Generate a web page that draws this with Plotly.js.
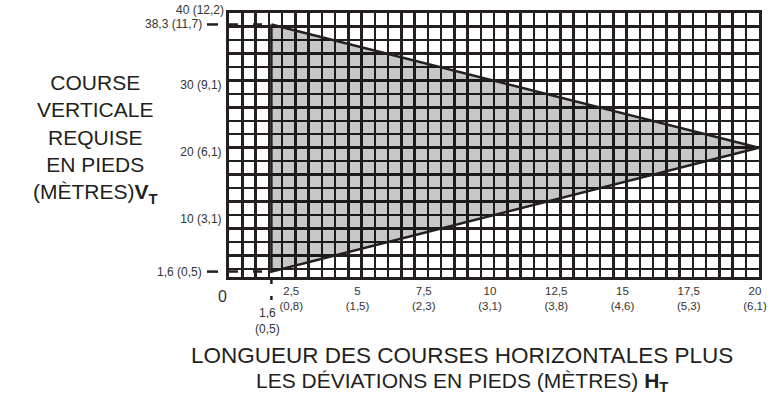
<!DOCTYPE html>
<html>
<head>
<meta charset="utf-8">
<script src="https://cdn.plot.ly/plotly-3.0.1.min.js"></script>
<style>html,body{margin:0;padding:0;background:#fff;}#chart{width:776px;height:396px;}</style>
</head>
<body>
<div id="chart"></div>
<script>
// ---- data ----
const xTickVals = [2.5, 5, 7.5, 10, 12.5, 15, 17.5, 20];
const xTickFeet = ['2,5', '5', '7,5', '10', '12,5', '15', '17,5', '20'];
const xTickMeters = ['(0,8)', '(1,5)', '(2,3)', '(3,1)', '(3,8)', '(4,6)', '(5,3)', '(6,1)'];
const yTickVals = [10, 20, 30, 40];
const yTickText = ['10 (3,1)', '20 (6,1)', '30 (9,1)', '40 (12,2)'];
const triX = [1.6, 20, 1.6, 1.6];
const triY = [38.3, 20, 1.6, 38.3];
const refYVals = [38.3, 1.6];
const refYText = ['38,3 (11,7)', '1,6 (0,5)'];
const refXVal = 1.6;
const refXText = '1,6<br>(0,5)';
const originVal = 0;
const originText = '0';
const yTitle = 'COURSE<br>VERTICALE<br>REQUISE<br>EN PIEDS<br>(MÈTRES)<b>V</b><sub><b>T</b></sub>';
const xTitleLines = ['LONGUEUR DES COURSES HORIZONTALES PLUS',
                     'LES DÉVIATIONS EN PIEDS (MÈTRES) <b>H</b><sub><b>T</b></sub>'];

const INK = '#231f20';
const LBL = '#333333';
const FONT = 'Liberation Sans, Arial, sans-serif';

const traces = [];
// triangle
traces.push({
  x: triX, y: triY, type: 'scatter', mode: 'lines',
  fill: 'toself', fillcolor: 'rgba(0,0,0,0.22)',
  line: {color: INK, width: 2.5}, hoverinfo: 'skip', showlegend: false
});
// horizontal dashed reference lines inside the plot
refYVals.forEach(v => {
  traces.push({
    x: [originVal, refXVal], y: [v, v], type: 'scatter', mode: 'lines',
    line: {color: INK, width: 2.5, dash: '9px,15px'},
    hoverinfo: 'skip', showlegend: false
  });
});

const shapes = [];
// outside dash marks (left of y axis) at reference y values
refYVals.forEach(v => {
  shapes.push({
    type: 'line', xref: 'paper', xsizemode: 'pixel', xanchor: 0, x0: -22, x1: -11,
    yref: 'y', y0: v, y1: v, line: {color: INK, width: 2.5}, layer: 'above'
  });
});
// dashes below x axis at reference x value
[[-2, -7], [-19, -23]].forEach(seg => {
  shapes.push({
    type: 'line', xref: 'x', x0: refXVal, x1: refXVal,
    yref: 'paper', ysizemode: 'pixel', yanchor: 0, y0: seg[0], y1: seg[1],
    line: {color: INK, width: 2.5}, layer: 'above'
  });
});

const annotations = [];
refYVals.forEach((v, i) => {
  annotations.push({
    x: 0, y: v, xref: 'paper', yref: 'y', xshift: -25, text: refYText[i], showarrow: false,
    xanchor: 'right', yanchor: 'middle', font: {family: FONT, size: 12, color: LBL}
  });
});
// top y label sits just above the frame
const nTop = yTickVals.length - 1;
annotations.push({
  x: 0, y: yTickVals[nTop], xref: 'paper', yref: 'y', xshift: -3, yshift: 3,
  text: yTickText[nTop], showarrow: false, xanchor: 'right', yanchor: 'middle',
  font: {family: FONT, size: 12, color: LBL}
});
annotations.push({
  x: refXVal, y: 0, xref: 'x', yref: 'paper', yshift: -27, xshift: -4,
  text: refXText, showarrow: false, xanchor: 'center', yanchor: 'top',
  font: {family: FONT, size: 12, color: LBL}
});
annotations.push({
  x: originVal, y: 0, xref: 'x', yref: 'paper', yshift: -9, xshift: -7,
  text: originText, showarrow: false, xanchor: 'center', yanchor: 'top',
  font: {family: FONT, size: 16, color: LBL}
});
annotations.push({
  x: -0.2528, y: 0.5227, xref: 'paper', yref: 'paper', text: yTitle, showarrow: false,
  xanchor: 'center', yanchor: 'middle', align: 'center',
  font: {family: FONT, size: 21, color: INK}
});
annotations.push({
  x: 0.4396, y: 0, xref: 'paper', yref: 'paper', yshift: -78, text: xTitleLines[0], showarrow: false,
  xanchor: 'center', yanchor: 'middle', align: 'center',
  font: {family: FONT, size: 22.5, color: INK}
});
annotations.push({
  x: 0.4396, y: 0, xref: 'paper', yref: 'paper', yshift: -105, text: xTitleLines[1], showarrow: false,
  xanchor: 'center', yanchor: 'middle', align: 'center',
  font: {family: FONT, size: 21, color: INK}
});

const layout = {
  width: 776, height: 396,
  margin: {l: 229, r: 17, t: 13, b: 119},
  paper_bgcolor: '#ffffff', plot_bgcolor: '#ffffff',
  showlegend: false,
  xaxis: {
    range: [0, 20], showgrid: true, gridcolor: INK, gridwidth: 2.5,
    zeroline: false, showline: true, mirror: true, linecolor: INK, linewidth: 3,
    tickmode: 'array', tickvals: xTickVals,
    ticktext: xTickFeet.map((f, i) => f + '<br>' + xTickMeters[i]),
    ticks: '', ticklabelshift: -4, ticklabelstandoff: 1,
    tickfont: {family: FONT, size: 11.5, color: LBL}, fixedrange: true,
    minor: {tick0: 0, dtick: 0.5, showgrid: true, gridcolor: INK, gridwidth: 2.5}
  },
  yaxis: {
    range: [0.8, 40], showgrid: true, gridcolor: INK, gridwidth: 2.5,
    zeroline: false, showline: true, mirror: true, linecolor: INK, linewidth: 3,
    tickmode: 'array', tickvals: yTickVals.slice(0, nTop), ticktext: yTickText.slice(0, nTop),
    ticks: '', ticklabelstandoff: 2, ticklabelshift: 4,
    tickfont: {family: FONT, size: 12, color: LBL}, fixedrange: true,
    minor: {tick0: 0, dtick: 2, showgrid: true, gridcolor: INK, gridwidth: 2.5}
  },
  shapes: shapes,
  annotations: annotations
};

Plotly.newPlot('chart', traces, layout, {displayModeBar: false, staticPlot: true});
</script>
</body>
</html>
